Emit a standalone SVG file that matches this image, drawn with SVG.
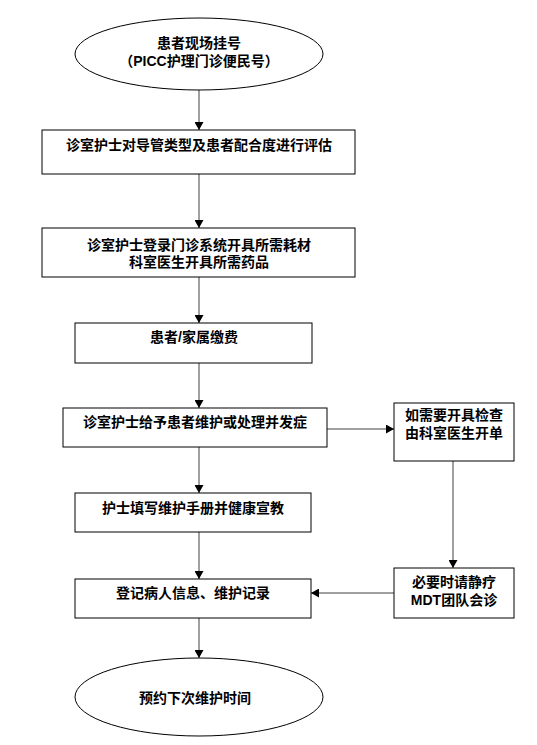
<svg xmlns="http://www.w3.org/2000/svg" width="537" height="745" viewBox="0 0 537 745">
<style>
.n{fill:#fff;stroke:#000;stroke-width:1}
.t{font-family:"Liberation Sans","Noto Sans CJK SC",sans-serif;font-size:14px;font-weight:bold;fill:#000;text-anchor:middle}
.c{stroke:#404040;stroke-width:1;fill:none;marker-end:url(#a)}
</style>
<defs>
<marker id="a" markerWidth="8" markerHeight="9" refX="8" refY="4.5" orient="auto" markerUnits="userSpaceOnUse">
<path d="M0,0 L8,4.5 L0,9 Z" fill="#000"/>
</marker>
</defs>
<rect width="537" height="745" fill="#fff"/>
<g id="connectors">
<line class="c" x1="199" y1="90" x2="199" y2="130"/>
<line class="c" x1="199" y1="174" x2="199" y2="228"/>
<line class="c" x1="199" y1="277" x2="199" y2="323"/>
<line class="c" x1="199" y1="363" x2="199" y2="408"/>
<line class="c" x1="327" y1="429" x2="394" y2="429"/>
<line class="c" x1="199" y1="447" x2="199" y2="493"/>
<line class="c" x1="453" y1="461" x2="453" y2="568"/>
<line class="c" x1="199" y1="532" x2="199" y2="579"/>
<line class="c" x1="394" y1="593" x2="311" y2="593"/>
<line class="c" x1="199" y1="618" x2="199" y2="658"/>
</g>
<g id="start">
<ellipse class="n" cx="199" cy="54" rx="124" ry="36"/>
<text class="t" x="199" y="48">患者现场挂号</text>
<text class="t" x="199" y="66">（PICC护理门诊便民号）</text>
</g>
<g id="assess">
<rect class="n" x="42" y="130" width="313" height="44"/>
<text class="t" x="199" y="150">诊室护士对导管类型及患者配合度进行评估</text>
</g>
<g id="order">
<rect class="n" x="42" y="228" width="313" height="49"/>
<text class="t" x="199" y="250">诊室护士登录门诊系统开具所需耗材</text>
<text class="t" x="199" y="267">科室医生开具所需药品</text>
</g>
<g id="pay">
<rect class="n" x="75" y="323" width="237" height="40"/>
<text class="t" x="194" y="342">患者/家属缴费</text>
</g>
<g id="maintain">
<rect class="n" x="63" y="408" width="264" height="39"/>
<text class="t" x="195" y="427">诊室护士给予患者维护或处理并发症</text>
</g>
<g id="exam">
<rect class="n" x="394" y="403" width="120" height="58"/>
<text class="t" x="454" y="420">如需要开具检查</text>
<text class="t" x="454" y="438">由科室医生开单</text>
</g>
<g id="manual">
<rect class="n" x="75" y="493" width="236" height="39"/>
<text class="t" x="193" y="513">护士填写维护手册并健康宣教</text>
</g>
<g id="mdt">
<rect class="n" x="394" y="568" width="120" height="50"/>
<text class="t" x="454" y="587">必要时请静疗</text>
<text class="t" x="454" y="605">MDT团队会诊</text>
</g>
<g id="record">
<rect class="n" x="75" y="579" width="236" height="39"/>
<text class="t" x="193" y="598">登记病人信息、维护记录</text>
</g>
<g id="end">
<ellipse class="n" cx="199" cy="697" rx="124" ry="39"/>
<text class="t" x="195" y="703">预约下次维护时间</text>
</g>
</svg>
